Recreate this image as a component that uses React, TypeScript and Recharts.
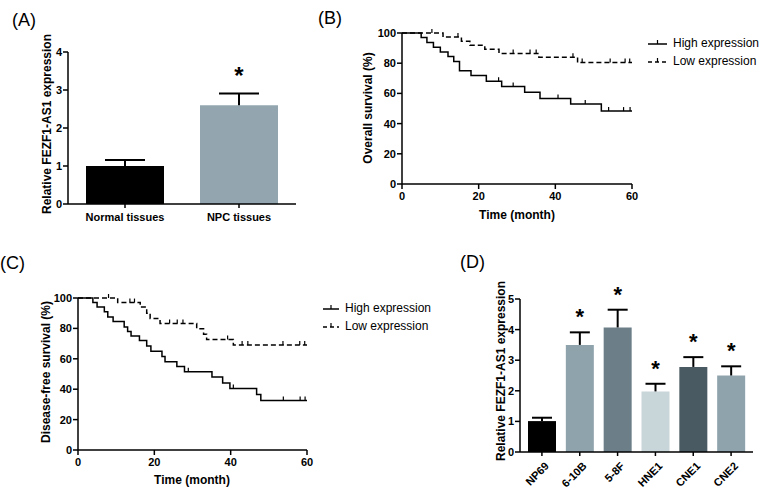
import React from 'react';
import { BarChart, Bar, XAxis, YAxis, Cell, LabelList, ComposedChart, Line, Scatter } from 'recharts';

const FONT = '"Liberation Sans", Arial, Helvetica, sans-serif';

// (A) tissues
const tissueNames = ['Normal tissues', 'NPC tissues'];
const tissueMeans = [1.0, 2.6];
const tissueSems = [0.16, 0.31];
const tissueColors = ['#000000', '#93a6b0'];
const tissueStars = ['', '*'];

// (D) cell lines
const cellNames = ['NP69', '6-10B', '5-8F', 'HNE1', 'CNE1', 'CNE2'];
const cellMeans = [1.01, 3.5, 4.07, 1.98, 2.78, 2.5];
const cellSems = [0.11, 0.41, 0.58, 0.25, 0.32, 0.3];
const cellColors = ['#000000', '#8fa3ad', '#6c7f88', '#c9d6d9', '#4a5a62', '#8fa3ad'];
const cellStars = ['', '*', '*', '*', '*', '*'];

// (B) overall survival
const osHighTimes = [0, 5, 6.5, 8.2, 10, 12, 13.5, 15, 18, 22, 26, 32, 36, 44, 52];
const osHighSurv = [100, 97, 93.7, 90.6, 87.5, 84.4, 81.2, 75, 71.9, 68.1, 64.5, 60.7, 56.7, 53, 48.3];
const osHighCensor = [25.2, 29, 40.7, 47.8, 53.9, 57.8, 59.5];
const osLowTimes = [0, 10.7, 15.5, 17.7, 21.6, 25.3, 35.7, 45.8];
const osLowSurv = [100, 97.3, 94.6, 91.9, 89.2, 86.5, 84, 80.4];
const osLowCensor = [7.8, 14.6, 29, 33.4, 35, 44.6, 47, 54.3, 58.2, 59.4];

// (C) disease-free survival
const dfsHighTimes = [0, 3.9, 5, 6.9, 7.8, 9.2, 12.1, 13, 13.9, 16.1, 18, 19.1, 22, 22.8, 25.9, 27.9, 35.1, 37.9, 39.8, 46.8, 47.9];
const dfsHighSurv = [100, 97, 94, 91, 87.5, 84.5, 81, 78, 75, 72, 68.5, 65, 61.5, 58, 55, 51.5, 48, 44, 40.5, 36.5, 32.5];
const dfsHighCensor = [28.9, 40.7, 53.8, 58.2, 59.5];
const dfsLowTimes = [0, 10.4, 16.3, 18, 18.9, 21.5, 31.1, 32.9, 33.7, 40.7];
const dfsLowSurv = [100, 97, 94, 90, 86.5, 83.3, 79.8, 76.2, 72.7, 69];
const dfsLowCensor = [8, 13.6, 14.8, 24, 26, 27.5, 39.2, 43, 44.5, 53.7, 58.1, 59.4];

const followUp = 60;
const kmTicks = [0, 20, 40, 60];
const pctTicks = [0, 20, 40, 60, 80, 100];

const stepData = (times: number[], surv: number[]) =>
  [...times.map((t, i) => ({ t, s: surv[i] })), { t: followUp, s: surv[surv.length - 1] }];

const censorData = (times: number[], surv: number[], marks: number[]) =>
  marks.map((m) => {
    let s = surv[0];
    times.forEach((t, i) => {
      if (t <= m) s = surv[i];
    });
    return { t: m, s };
  });

const tickStyle = { fill: '#000', fontSize: 11, fontWeight: 'bold', fontFamily: FONT };
const axisLine = { stroke: '#000', strokeWidth: 1.5 };

const CensorMark = (props: any) => (
  <line x1={props.cx} x2={props.cx} y1={props.cy - 4} y2={props.cy} stroke="#000" strokeWidth={1.2} />
);

const errorShape = (capW: number) => (props: any) => {
  const { x, y, width, height } = props;
  const cx = x + width / 2;
  return (
    <g>
      <line x1={cx} x2={cx} y1={y} y2={y + height} stroke="#000" strokeWidth={2} />
      <line x1={cx - capW / 2} x2={cx + capW / 2} y1={y} y2={y} stroke="#000" strokeWidth={2} />
    </g>
  );
};

const starLabel = (lift: number, size: number) => (props: any) => {
  const { x, y, width, value } = props;
  if (!value) return null;
  return (
    <text x={Number(x) + Number(width) / 2} y={Number(y) - lift} textAnchor="middle" fontSize={size} fontWeight="bold" fontFamily={FONT} fill="#000">
      {value}
    </text>
  );
};

const RotTick = (props: any) => {
  const { x, y, payload } = props;
  return (
    <g transform={`translate(${x + 5},${y + 6})`}>
      <text x={0} y={0} dy="0.35em" textAnchor="end" transform="rotate(-45)" style={tickStyle}>
        {payload.value}
      </text>
    </g>
  );
};

function Title({ text, x, y, rotate }: { text: string; x: number; y: number; rotate?: boolean }) {
  return (
    <div
      style={{
        position: 'absolute',
        left: x,
        top: y,
        transform: `translate(-50%, -50%)${rotate ? ' rotate(-90deg)' : ''}`,
        whiteSpace: 'nowrap',
        fontFamily: FONT,
        fontWeight: 'bold',
        fontSize: 12,
        lineHeight: '14px',
      }}
    >
      {text}
    </div>
  );
}

function PanelTag({ text, x, y }: { text: string; x: number; y: number }) {
  return (
    <div style={{ position: 'absolute', left: x, top: y, fontFamily: FONT, fontSize: 18, lineHeight: '20px' }}>{text}</div>
  );
}

function KmLegend({ x, y, gap, lineW }: { x: number; y: number; gap: number; lineW: number }) {
  const rows = [
    { label: 'High expression', dash: undefined },
    { label: 'Low expression', dash: '4 3' },
  ];
  return (
    <div style={{ position: 'absolute', left: x, top: y, fontFamily: FONT, fontSize: 12 }}>
      {rows.map((r, i) => (
        <div key={r.label} style={{ position: 'absolute', top: i * gap - 7, left: 0, whiteSpace: 'nowrap', display: 'flex', alignItems: 'center', height: 14 }}>
          <svg width={lineW} height={10} style={{ marginRight: 6 }}>
            <line x1={0} x2={lineW} y1={6} y2={6} stroke="#000" strokeWidth={1.5} strokeDasharray={r.dash} />
            <line x1={lineW / 2} x2={lineW / 2} y1={2} y2={6} stroke="#000" strokeWidth={1.2} />
          </svg>
          <span>{r.label}</span>
        </div>
      ))}
    </div>
  );
}

function ExprBars(props: {
  names: string[]; means: number[]; sems: number[]; colors: string[]; stars: string[];
  width: number; height: number; margin: any; yMax: number; barSize: number; capW: number;
  pad: number; rotated?: boolean; xHeight: number; yWidth: number; starLift: number; starSize: number;
}) {
  const data = props.names.map((name, i) => ({ name, mean: props.means[i], sem: props.sems[i], star: props.stars[i] }));
  const ticks = Array.from({ length: props.yMax + 1 }, (_, i) => i);
  return (
    <BarChart width={props.width} height={props.height} data={data} margin={props.margin} barSize={props.barSize}>
      <XAxis
        dataKey="name"
        tick={props.rotated ? <RotTick /> : tickStyle}
        axisLine={axisLine}
        tickLine={axisLine}
        tickSize={4}
        tickMargin={props.rotated ? 2 : 5}
        interval={0}
        height={props.xHeight}
        padding={{ left: props.pad, right: props.pad }}
      />
      <YAxis domain={[0, props.yMax]} ticks={ticks} tick={tickStyle} axisLine={axisLine} tickLine={axisLine} tickSize={5} tickMargin={1} width={props.yWidth} />
      <Bar dataKey="mean" stackId="a" isAnimationActive={false}>
        {data.map((d, i) => (
          <Cell key={d.name} fill={props.colors[i]} />
        ))}
      </Bar>
      <Bar dataKey="sem" stackId="a" isAnimationActive={false} shape={errorShape(props.capW)}>
        <LabelList dataKey="star" content={starLabel(props.starLift, props.starSize)} />
      </Bar>
    </BarChart>
  );
}

function KmChart(props: {
  width: number; height: number; margin: any;
  highT: number[]; highS: number[]; highC: number[];
  lowT: number[]; lowS: number[]; lowC: number[];
}) {
  return (
    <ComposedChart width={props.width} height={props.height} margin={props.margin}>
      <XAxis type="number" dataKey="t" domain={[0, 60]} ticks={kmTicks} tick={tickStyle} axisLine={axisLine} tickLine={axisLine} tickSize={5} tickMargin={3} height={20} allowDuplicatedCategory={false} />
      <YAxis type="number" domain={[0, 100]} ticks={pctTicks} tick={tickStyle} axisLine={axisLine} tickLine={axisLine} tickSize={5} tickMargin={1} width={30} />
      <Line data={stepData(props.highT, props.highS)} dataKey="s" type="stepAfter" stroke="#000" strokeWidth={1.5} dot={false} isAnimationActive={false} />
      <Line data={stepData(props.lowT, props.lowS)} dataKey="s" type="stepAfter" stroke="#000" strokeWidth={1.5} strokeDasharray="5 3" dot={false} isAnimationActive={false} />
      <Scatter data={censorData(props.highT, props.highS, props.highC)} dataKey="s" shape={<CensorMark />} isAnimationActive={false} />
      <Scatter data={censorData(props.lowT, props.lowS, props.lowC)} dataKey="s" shape={<CensorMark />} isAnimationActive={false} />
    </ComposedChart>
  );
}

export default function App() {
  return (
    <div style={{ position: 'absolute', left: 0, top: 0, width: 761, height: 487, background: '#fff', fontFamily: FONT }}>
      {/* (A) */}
      <PanelTag text="(A)" x={12} y={10} />
      <div style={{ position: 'absolute', left: 0, top: 0 }}>
        <ExprBars
          names={tissueNames} means={tissueMeans} sems={tissueSems} colors={tissueColors} stars={tissueStars}
          width={320} height={240} margin={{ top: 52, right: 24, bottom: 12, left: 38 }}
          yMax={4} barSize={78} capW={40} pad={0} xHeight={24} yWidth={30} starLift={9} starSize={24}
        />
      </div>
      <Title text="Relative FEZF1-AS1 expression" x={47} y={124} rotate />

      {/* (B) */}
      <PanelTag text="(B)" x={318} y={8} />
      <div style={{ position: 'absolute', left: 330, top: 0 }}>
        <KmChart
          width={431} height={230} margin={{ top: 33, right: 129, bottom: 26, left: 42 }}
          highT={osHighTimes} highS={osHighSurv} highC={osHighCensor}
          lowT={osLowTimes} lowS={osLowSurv} lowC={osLowCensor}
        />
      </div>
      <Title text="Overall survival (%)" x={368} y={108} rotate />
      <Title text="Time (month)" x={517} y={215} />
      <KmLegend x={648} y={43} gap={18} lineW={19} />

      {/* (C) */}
      <PanelTag text="(C)" x={0} y={253} />
      <div style={{ position: 'absolute', left: 0, top: 230 }}>
        <KmChart
          width={470} height={257} margin={{ top: 68, right: 163, bottom: 17, left: 48 }}
          highT={dfsHighTimes} highS={dfsHighSurv} highC={dfsHighCensor}
          lowT={dfsLowTimes} lowS={dfsLowSurv} lowC={dfsLowCensor}
        />
      </div>
      <Title text="Disease-free survival (%)" x={46} y={372} rotate />
      <Title text="Time (month)" x={192} y={480} />
      <KmLegend x={323} y={308} gap={18} lineW={16} />

      {/* (D) */}
      <PanelTag text="(D)" x={460} y={252} />
      <div style={{ position: 'absolute', left: 470, top: 230 }}>
        <ExprBars
          names={cellNames} means={cellMeans} sems={cellSems} colors={cellColors} stars={cellStars}
          width={291} height={257} margin={{ top: 69, right: 8, bottom: 0, left: 25 }}
          yMax={5} barSize={28} capW={20} pad={3} rotated xHeight={35} yWidth={25} starLift={8} starSize={22}
        />
      </div>
      <Title text="Relative FEZF1-AS1 expression" x={501} y={371} rotate />
    </div>
  );
}
